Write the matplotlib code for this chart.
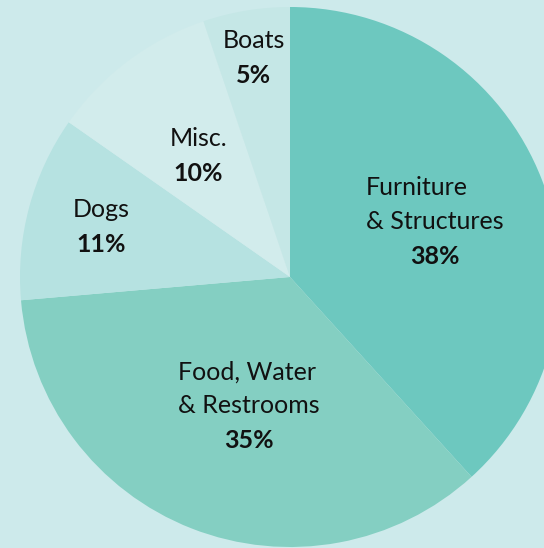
import matplotlib.pyplot as plt
import numpy as np

# slice data, clockwise from 12 o'clock
categories = ["Furniture\n& Structures", "Food, Water\n& Restrooms", "Dogs", "Misc.", "Boats"]
shares = [38.3, 35.4, 11.1, 10.1, 5.2]
pct_labels = ["38%", "35%", "11%", "10%", "5%"]

colors = ["#6dc8bf", "#84cfc2", "#b6e2e1", "#d2ecec", "#c5e7e6"]
label_dist = [0.575, 0.51, 0.725, 0.565, 0.825]
label_nudge = [0, 9, 0, 0, 0]  # small horizontal tweak, px
bg = "#cdeaeb"

W, H = 544, 548
cx, cy, R = 290, H - 277, 270
LINE = 33  # px between text lines

fig = plt.figure(figsize=(W / 100, H / 100), dpi=100, facecolor=bg)
ax = fig.add_axes([0, 0, 1, 1])
ax.set_facecolor(bg)

wedges, _ = ax.pie(
    shares, colors=colors, startangle=90, counterclock=False,
    center=(cx, cy), radius=R, wedgeprops=dict(linewidth=0),
)

font = "Lato"
fs = 18
for w, name, pct, d, dx in zip(wedges, categories, pct_labels, label_dist, label_nudge):
    mid = np.deg2rad((w.theta1 + w.theta2) / 2)
    x = cx + d * R * np.cos(mid) + dx
    y = cy + d * R * np.sin(mid)
    n = name.count("\n") + 2  # total lines incl. percentage
    top = y + (n - 1) / 2 * LINE
    name_y = top - (n - 2) / 2 * LINE
    pct_y = top - (n - 1) * LINE - 2
    ax.text(x, name_y, name, ha="center", va="center", multialignment="left",
            fontsize=fs, family=font, color="#111111", linespacing=1.55)
    ax.text(x, pct_y, pct, ha="center", va="center",
            fontsize=fs, family=font, fontweight="bold", color="#111111")

ax.set_xlim(0, W)
ax.set_ylim(0, H)
ax.set_aspect("equal")
ax.axis("off")

fig.savefig("out.png", dpi=100, facecolor=bg)
